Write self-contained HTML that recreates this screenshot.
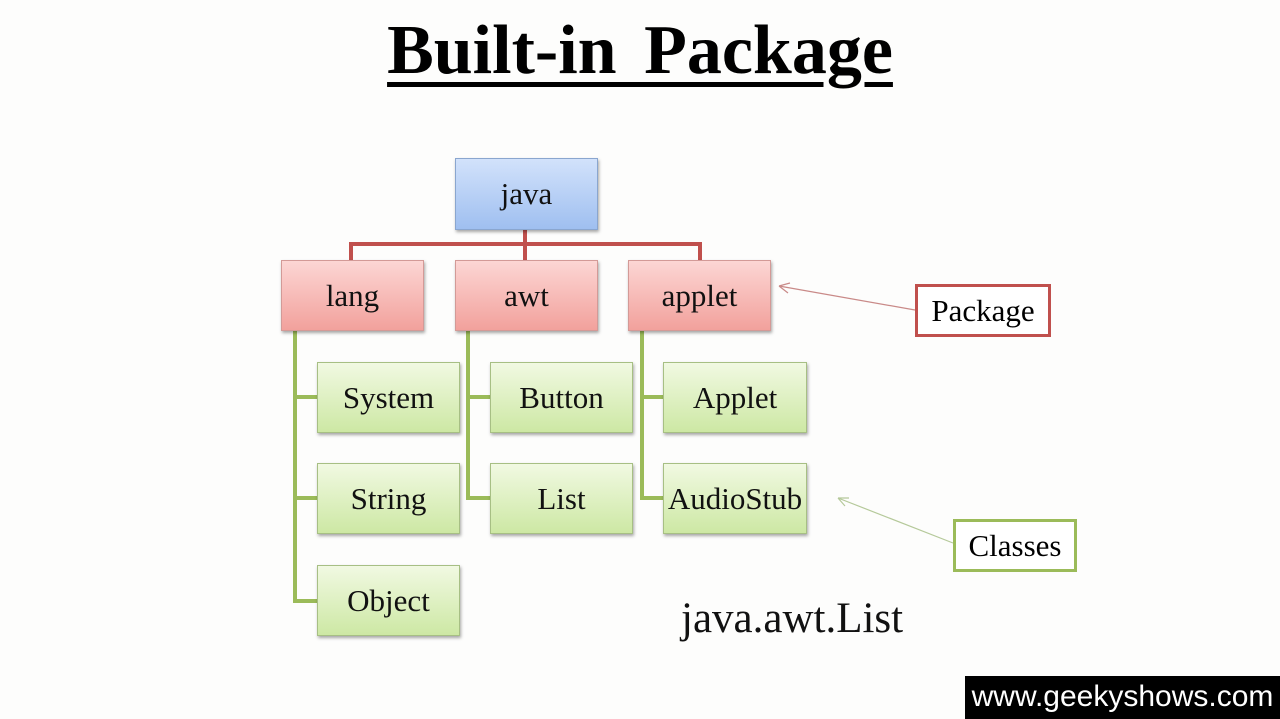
<!DOCTYPE html>
<html><head><meta charset="utf-8"><style>
body{margin:0;width:1280px;height:719px;background:#fdfdfc;position:relative;overflow:hidden;font-family:"Liberation Serif",serif}
.t{position:absolute;left:0;width:1280px;top:11px;text-align:center;font-weight:bold;font-size:70px;word-spacing:10px;color:#000}
.t span{text-decoration:underline;text-decoration-thickness:5px;text-underline-offset:9px}
.b{position:absolute;box-sizing:border-box;display:flex;align-items:center;justify-content:center;font-size:31px;color:#111;box-shadow:1px 2px 3px rgba(0,0,0,.35)}
.bl{background:linear-gradient(#d2e2fb,#9fbff0);border:1px solid #8aa6cf}
.rd{background:linear-gradient(#fcd6d4,#f2a19c);border:1px solid #d39a97}
.gr{background:linear-gradient(#f1f9e2,#cde8a4);border:1px solid #a7bf84}
.lb{position:absolute;box-sizing:border-box;background:#fff;display:flex;align-items:center;justify-content:center;font-size:31px}
</style></head><body>
<div class="t"><span>Built-in Package</span></div>
<svg width="1280" height="719" style="position:absolute;left:0;top:0">
<g stroke="#c0504d" stroke-width="4" fill="none">
<path d="M525 230V260M351 260V244H700V260"/></g>
<g stroke="#9bbb59" stroke-width="4" fill="none">
<path d="M295 331V601H317M295 397H317M295 498H317"/>
<path d="M468 331V498H490M468 397H490"/>
<path d="M642 331V498H663M642 397H663"/></g>
<g stroke="#c98a88" stroke-width="1.2" fill="none">
<path d="M915 310L779 286M779 286l11 -3M779 286l9 7"/></g>
<g stroke="#b5c99a" stroke-width="1.2" fill="none">
<path d="M953 543L838 498M838 498l11 0M838 498l7 8"/></g>
</svg>
<div class="b bl" style="left:455px;top:158px;width:143px;height:72px">java</div>
<div class="b rd" style="left:281px;top:260px;width:143px;height:71px">lang</div>
<div class="b rd" style="left:455px;top:260px;width:143px;height:71px">awt</div>
<div class="b rd" style="left:628px;top:260px;width:143px;height:71px">applet</div>
<div class="b gr" style="left:317px;top:362px;width:143px;height:71px">System</div>
<div class="b gr" style="left:317px;top:463px;width:143px;height:71px">String</div>
<div class="b gr" style="left:317px;top:565px;width:143px;height:71px">Object</div>
<div class="b gr" style="left:490px;top:362px;width:143px;height:71px">Button</div>
<div class="b gr" style="left:490px;top:463px;width:143px;height:71px">List</div>
<div class="b gr" style="left:663px;top:362px;width:144px;height:71px">Applet</div>
<div class="b gr" style="left:663px;top:463px;width:144px;height:71px">AudioStub</div>
<div class="lb" style="left:915px;top:284px;width:136px;height:53px;border:3px solid #c0504d">Package</div>
<div class="lb" style="left:953px;top:519px;width:124px;height:53px;border:3px solid #9bbb59">Classes</div>
<div style="position:absolute;left:681px;top:594px;font-size:43px;color:#111">java.awt.List</div>
<div style="position:absolute;left:965px;top:676px;width:315px;height:43px;background:#000;color:#fff;font-family:'Liberation Sans',sans-serif;font-size:30px;line-height:41px;text-align:center">www.geekyshows.com</div>
</body></html>
